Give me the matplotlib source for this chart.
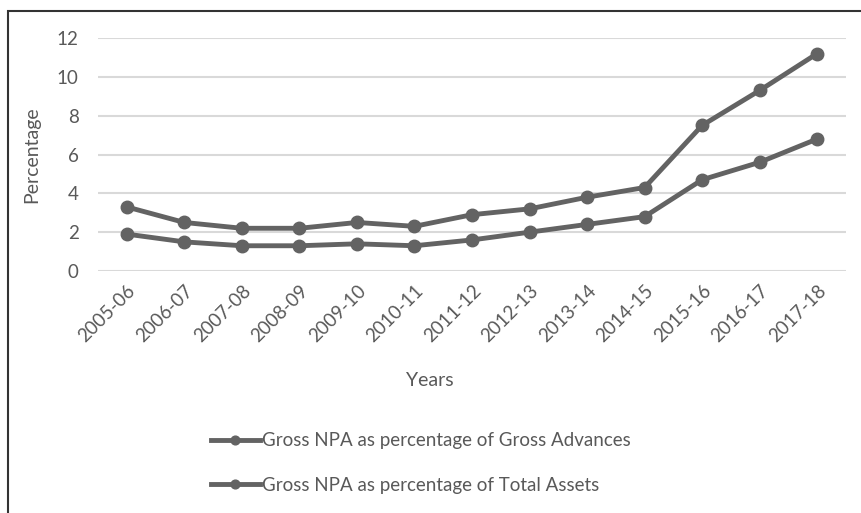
import matplotlib
matplotlib.use("Agg")
import matplotlib.pyplot as plt
from matplotlib.patches import Rectangle

years = ['2005-06', '2006-07', '2007-08', '2008-09', '2009-10', '2010-11', '2011-12',
         '2012-13', '2013-14', '2014-15', '2015-16', '2016-17', '2017-18']
gross_advances = [3.3, 2.5, 2.2, 2.2, 2.5, 2.3, 2.9, 3.2, 3.8, 4.3, 7.5, 9.3, 11.2]
total_assets = [1.9, 1.5, 1.3, 1.3, 1.4, 1.3, 1.6, 2.0, 2.4, 2.8, 4.7, 5.6, 6.8]

plt.rcParams['font.family'] = ['Lato', 'DejaVu Sans']
text_col = '#595959'
line_col = '#636363'

W, H = 861, 513
fig = plt.figure(figsize=(W / 100, H / 100), dpi=100)
ax = fig.add_axes([98 / W, 1 - 271 / H, (846 - 98) / W, (271 - 38) / H])

x = list(range(len(years)))
ax.plot(x, gross_advances, color=line_col, lw=3.5, marker='o', ms=9,
        label='Gross NPA as percentage of Gross Advances')
ax.plot(x, total_assets, color=line_col, lw=3.5, marker='o', ms=9,
        label='Gross NPA as percentage of Total Assets')

ax.set_xlim(-0.5, len(years) - 0.5)
ax.set_ylim(0, 12)
ax.set_yticks(range(0, 13, 2))
ax.set_xticks(x)
ax.set_xticklabels(years, rotation=45, ha='right', rotation_mode='anchor')
ax.grid(axis='y', color='#d9d9d9', lw=1.5)
ax.set_axisbelow(True)
for s in ax.spines.values():
    s.set_visible(False)
ax.tick_params(length=0, labelsize=13.5, colors=text_col, pad=8)
ax.tick_params(axis='y', pad=14)

ax.set_ylabel('Percentage', fontsize=14, color=text_col, labelpad=12)
fig.text(430 / W, 1 - 381 / H, 'Years', fontsize=14, color=text_col, ha='center', va='center')

leg = fig.legend(loc='center left', bbox_to_anchor=(194 / W, 1 - 463 / H), frameon=False,
                 fontsize=13.5, handlelength=2.6, labelspacing=1.45, handletextpad=0.1,
                 markerscale=0.7)
for t in leg.get_texts():
    t.set_color(text_col)

fig.patches.append(Rectangle((8 / W, -0.1), 1.2, 1.1 - 11 / H, transform=fig.transFigure,
                             fill=False, edgecolor='#333333', lw=1.5))

fig.savefig('out.png', dpi=100)
